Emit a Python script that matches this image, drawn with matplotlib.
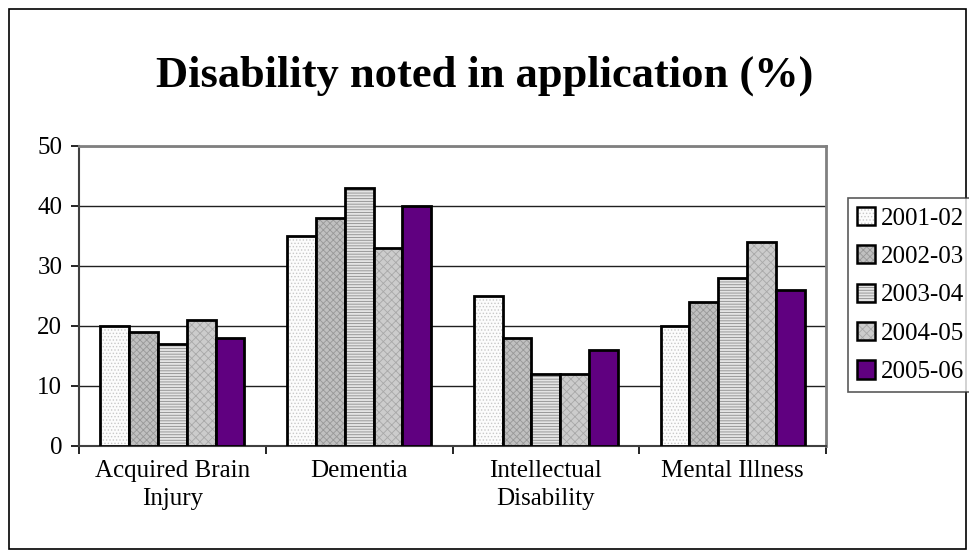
import matplotlib
matplotlib.use('Agg')

import matplotlib.pyplot as plt
import matplotlib.patches as patches
import numpy as np

plt.rcParams['font.family'] = ['Liberation Serif', 'DejaVu Serif']
plt.rcParams['hatch.linewidth'] = 0.6

categories = ['Acquired Brain\nInjury', 'Dementia', 'Intellectual\nDisability', 'Mental Illness']
years = ['2001-02', '2002-03', '2003-04', '2004-05', '2005-06']
y2001 = [20, 35, 25, 20]
y2002 = [19, 38, 18, 24]
y2003 = [17, 43, 12, 28]
y2004 = [21, 33, 12, 34]
y2005 = [18, 40, 16, 26]
series = [y2001, y2002, y2003, y2004, y2005]

# fill, hatch, hatch colour per year
styles = [
    ('#fcfcfc', '.....', '#c8c8c8'),
    ('#c0c0c0', 'xxxxx', '#989898'),
    ('#e4e4e4', '------', '#8c8c8c'),
    ('#cccccc', 'xxxx', '#a8a8a8'),
    ('#600080', None, None),
]

fig = plt.figure(figsize=(9.7, 5.53), dpi=100)
ax = fig.add_axes([79 / 970, 1 - 446 / 553, (826 - 79) / 970, 300 / 553])

x = np.arange(len(categories))
width = 0.154
for i, (vals, (fc, hatch, hc)) in enumerate(zip(series, styles)):
    pos = x + (i - 2) * width
    bars = ax.bar(pos, vals, width, color=fc, edgecolor='black', linewidth=2.0,
                  label=years[i], zorder=3)
    if hatch:
        for b in bars:
            b.set_hatch(hatch)
            b._hatch_color = matplotlib.colors.to_rgba(hc)

ax.set_xlim(-0.5, len(categories) - 0.5)
ax.set_ylim(0, 50)
ax.set_yticks(range(0, 51, 10))
ax.set_xticks(np.arange(-0.5, len(categories), 1.0))
ax.set_xticklabels([])
ax.set_xticks(x, minor=True)
ax.set_xticklabels(categories, minor=True)
ax.tick_params(axis='x', which='minor', length=0, pad=10)
ax.tick_params(axis='x', which='major', length=6, width=1.2, direction='out')
ax.tick_params(axis='y', length=6, width=1.2, direction='out', labelsize=18, pad=6)

ax.grid(axis='y', color='#202020', linewidth=1.0, zorder=0)
ax.set_axisbelow(True)
for side in ['top', 'right']:
    ax.spines[side].set_color('#808080')
    ax.spines[side].set_linewidth(2)
ax.spines['left'].set_color('#404040')
ax.spines['left'].set_linewidth(1.5)
ax.spines['bottom'].set_color('#404040')
ax.spines['bottom'].set_linewidth(1.5)

for lab in ax.get_xticklabels(minor=True):
    lab.set_fontsize(18)
    lab.set_linespacing(1.35)

fig.text(0.5, 1 - 76 / 553, 'Disability noted in application (%)', ha='center', va='center',
         fontsize=32, fontweight='bold')

leg = fig.legend(loc='upper left', bbox_to_anchor=(848 / 970, 1 - 198 / 553),
                 frameon=True, fontsize=18, handlelength=0.75, handleheight=0.75,
                 handletextpad=0.2, labelspacing=0.62, borderpad=0.35, fancybox=False,
                 borderaxespad=0)
leg.get_frame().set_edgecolor('#303030')
leg.get_frame().set_linewidth(1.2)
for h in leg.legend_handles:
    h.set_linewidth(1.8)

fig.patches.append(patches.Rectangle((9 / 970, 4 / 553), 1 - 13 / 970, 1 - 13 / 553,
                                     transform=fig.transFigure, fill=False,
                                     edgecolor='black', linewidth=1.2))

fig.savefig('out.png', dpi=100)
